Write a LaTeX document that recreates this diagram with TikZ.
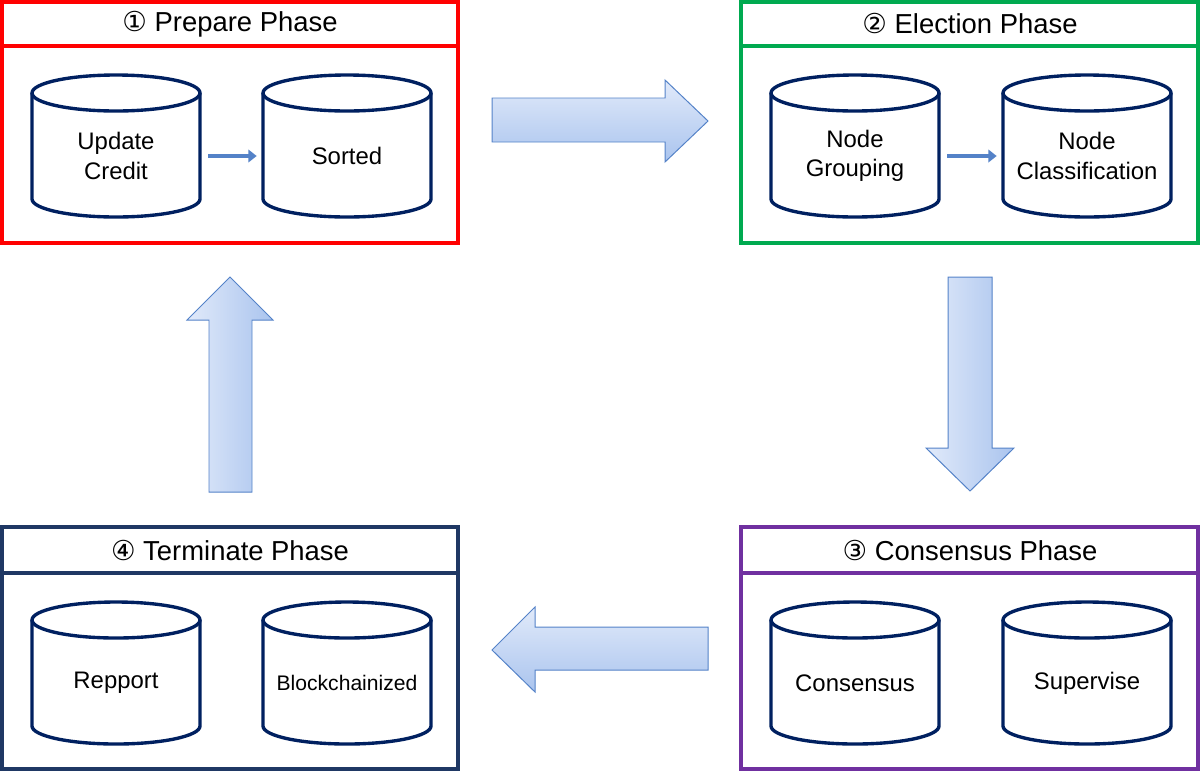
\documentclass[tikz,border=0pt]{standalone}
\usepackage{fontspec}
\setmainfont{Liberation Sans}
\newfontfamily\circfont{DejaVu Sans}
\usetikzlibrary{arrows.meta}
\definecolor{cylnavy}{RGB}{0,32,96}
\definecolor{pgreen}{RGB}{0,170,80}
\definecolor{ppurple}{RGB}{112,48,160}
\definecolor{pnavy}{RGB}{31,56,100}
\definecolor{arrline}{RGB}{84,130,200}
\definecolor{arrlight}{RGB}{225,234,250}
\definecolor{arrdark}{RGB}{170,196,238}
% cylinder: [text options] centre x, centre y, name, text
\newcommand{\dbcyl}[5][]{%
  \draw[cylpath] (#2-84,#3-53) -- (#2-84,#3+53)
    arc[start angle=180, end angle=0, x radius=84, y radius=18]
    -- (#2+84,#3-53);
  \draw[cylpath] (#2,#3-53) ellipse[x radius=84, y radius=18];
  \node[dbtext, #1] (#4) at (#2,#3+10) {#5};}
\begin{document}
\begin{tikzpicture}[x=0.025cm, y=-0.025cm,
  cylpath/.style={draw=cylnavy, line width=2.4pt, line join=round},
  dbtext/.style={align=center, font=\fontsize{17}{21}\selectfont, inner sep=0pt,
    minimum width=4.2cm, minimum height=2.6cm},
  phase/.style={line width=2.6pt},
  title/.style={font=\fontsize{19.5}{23}\selectfont},
  small/.style={draw=arrline, line width=3pt, -{Triangle[length=6pt,width=9pt]}},
  big/.style={draw=arrline, line width=0.7pt},
]
\useasboundingbox (0,0) rectangle (1200,771);

% phase boxes
\draw[phase, red] (2,2) rectangle (458,243) (2,46) -- (458,46);
\draw[phase, pgreen] (741,2) rectangle (1198,243) (741,46) -- (1198,46);
\draw[phase, pnavy] (2,527) rectangle (458,769) (2,573) -- (458,573);
\draw[phase, ppurple] (741,527) rectangle (1198,769) (741,573) -- (1198,573);

\node[title] (t1) at (230,24) {{\circfont ①} Prepare Phase};
\node[title] (t2) at (970,24) {{\circfont ②} Election Phase};
\node[title] (t4) at (230,550) {{\circfont ④} Terminate Phase};
\node[title] (t3) at (970,550) {{\circfont ③} Consensus Phase};

% databases
\dbcyl{116}{146}{uc}{Update\\Credit}
\dbcyl{347}{146}{so}{Sorted}
\dbcyl{855}{146}{ng}{Node\\Grouping}
\dbcyl{1087}{146}{nc}{Node\\Classification}
\dbcyl{855}{673}{co}{Consensus}
\dbcyl{1087}{673}{su}{Supervise}
\dbcyl{116}{673}{re}{Repport}
\dbcyl[font=\fontsize{15}{18}\selectfont]{347}{673}{bc}{Blockchainized}

\draw[small] ([xshift=0.2cm]uc.east) -- ([xshift=-0.15cm]so.west);
\draw[small] ([xshift=0.2cm]ng.east) -- ([xshift=-0.15cm]nc.west);

% big block arrows
\draw[big, top color=arrlight, bottom color=arrdark]
  (492,98) -- (665,98) -- (665,80) -- (708,121) -- (665,162) -- (665,142) -- (492,142) -- cycle;
\draw[big, left color=arrlight, right color=arrdark]
  (948,277) -- (992,277) -- (992,448) -- (1014,448) -- (970,491) -- (926,448) -- (948,448) -- cycle;
\draw[big, top color=arrlight, bottom color=arrdark]
  (708,627) -- (535,627) -- (535,607) -- (492,650) -- (535,692) -- (535,670) -- (708,670) -- cycle;
\draw[big, left color=arrlight, right color=arrdark]
  (209,492) -- (252,492) -- (252,320) -- (273,320) -- (230,277) -- (187,320) -- (209,320) -- cycle;
\end{tikzpicture}
\end{document}
